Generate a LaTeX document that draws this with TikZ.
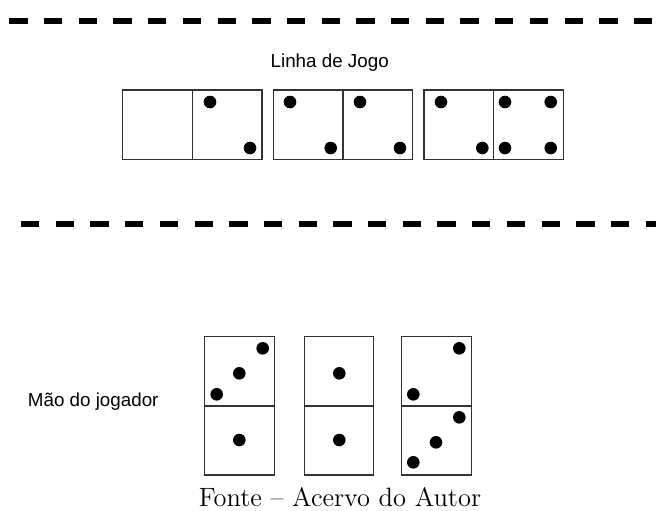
\documentclass[tikz,border=0pt]{standalone}
\usepackage{fontspec}
\newfontfamily\arialfont{Liberation Sans}

\tikzset{
    half/.style={draw=black!80, line width=0.6pt, minimum width=34.8pt, minimum height=34.7pt, inner sep=0pt, outer sep=0pt},
    pip/.style={fill=black},
    divider/.style={line width=2.85pt, dash pattern=on 9.15pt off 8.2pt},
    sans/.style={font=\fontsize{9.4}{11}\selectfont\arialfont}
}

\begin{document}
\begin{tikzpicture}[x=0.5pt,y=-0.5pt]
    \useasboundingbox (0,0) rectangle (656,510);

    % Dividers
    \coordinate (top-l) at (9.3,21);
    \coordinate (top-r) at (670,21);
    \coordinate (mid-l) at (21,224.3);
    \coordinate (mid-r) at (670,224.3);
    \draw[divider] (top-l) -- (top-r);
    \draw[divider] (mid-l) -- (mid-r);

    % Labels
    \node[sans, anchor=base] (linha) at (329.7,67.5) {Linha de Jogo};
    \node[sans, anchor=base west, inner sep=0pt] (mao) at (27.5,406) {Mão do jogador};
    \node[anchor=base, font=\fontsize{13.25}{15}\selectfont] (fonte) at (340,506) {Fonte -- Acervo do Autor};

    % Line of play
    \foreach \x/\n in {122.7/1,273.3/2,424/3} {
        \node[half] (line\n-a) at (\x+34.8,124.7) {};
        \node[half] (line\n-b) at (\x+104.5,124.7) {};
    }
    \foreach \px/\py in {210/102, 250/148,
                         290/102, 330.7/148, 360/102, 400/148,
                         441/102, 482.3/148,
                         505/102, 505/148, 550.7/102, 550.7/148} {
        \fill[pip] (\px,\py) circle[radius=3.15pt];
    }

    % Player's hand
    \foreach \x/\n in {205/1,304.3/2,401.7/3} {
        \node[half] (hand\n-a) at (\x+34.65,371.2) {};
        \node[half] (hand\n-b) at (\x+34.65,440.3) {};
    }
    \foreach \px/\py in {262.7/348.3, 239.3/373.3, 216.7/394.3, 239.3/440,
                         339.3/373.3, 339.3/440,
                         459.3/348.3, 413.3/394.3,
                         459.3/417.3, 436/442.3, 413.3/462.3} {
        \fill[pip] (\px,\py) circle[radius=3.15pt];
    }
\end{tikzpicture}
\end{document}
